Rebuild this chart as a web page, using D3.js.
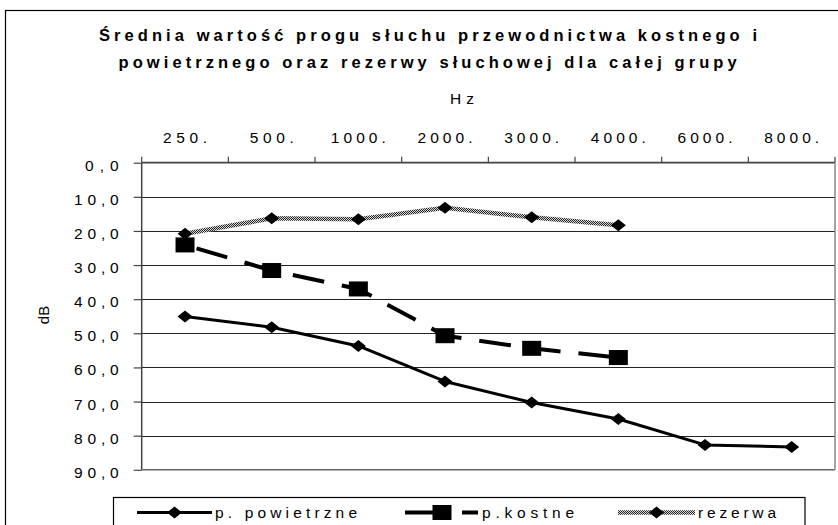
<!DOCTYPE html>
<html><head><meta charset="utf-8">
<script src="https://cdn.jsdelivr.net/npm/d3@7"></script>
<style>body{margin:0;background:#fff} svg{display:block} text{font-family:"Liberation Sans",Arial,sans-serif;fill:#000}</style>
</head><body><svg id="c" width="838" height="525"></svg>
<script>
const categories = ["250.","500.","1000.","2000.","3000.","4000.","6000.","8000."];
const powietrzne = [45.1,48.2,53.7,64.1,70.3,75.1,82.7,83.3];
const kostne = [24.1,31.6,37.0,50.7,54.4,57.1];
const rezerwa = [20.8,16.3,16.6,13.2,16.0,18.3];
const yTicks = [0,10,20,30,40,50,60,70,80,90];
const titleLines = ["Średnia wartość progu słuchu przewodnictwa kostnego i","powietrznego oraz rezerwy słuchowej dla całej grupy"];
const seriesNames = ["p. powietrzne","p.kostne","rezerwa"];

const svg = d3.select("#c");
svg.append("rect").attr("width",838).attr("height",525).attr("fill","#fff");
const defs = svg.append("defs");
const pat = defs.append("pattern").attr("id","chk").attr("patternUnits","userSpaceOnUse").attr("width",2).attr("height",2);
pat.append("rect").attr("width",2).attr("height",2).attr("fill","#d8d8d8");
pat.append("rect").attr("width",1).attr("height",1).attr("fill","#222");
pat.append("rect").attr("x",1).attr("y",1).attr("width",1).attr("height",1).attr("fill","#222");

// outer border
svg.append("rect").attr("x",5.5).attr("y",10.5).attr("width",900).attr("height",600)
  .attr("fill","none").attr("stroke","#000").attr("stroke-width",1.2);

const L=141.7, R=835, T=162.7, B=469.8;
const x = d3.scaleBand().domain(categories).range([L,R]).padding(0);
const y = d3.scaleLinear().domain([0,90]).range([T,B]);
const FS = "15.5px";

function fit(sel, w){ sel.attr("textLength",w).attr("lengthAdjust","spacing"); return sel; }

// title
fit(svg.append("text").attr("x",428).attr("y",41).attr("text-anchor","middle")
  .style("font-weight","bold").style("font-size","16.5px").text(titleLines[0]),658);
fit(svg.append("text").attr("x",427.6).attr("y",68).attr("text-anchor","middle")
  .style("font-weight","bold").style("font-size","16.5px").text(titleLines[1]),618);
fit(svg.append("text").attr("x",462).attr("y",104).attr("text-anchor","middle")
  .style("font-size",FS).text("Hz"),24);
svg.append("text").attr("transform","translate(49,315) rotate(-90)").attr("text-anchor","middle")
  .style("font-size","15px").text("dB");

// gridlines
svg.append("g").selectAll("line").data(yTicks.slice(1,-1)).join("line")
  .attr("x1",L).attr("x2",R).attr("y1",d=>Math.round(y(d))+0.5).attr("y2",d=>Math.round(y(d))+0.5)
  .attr("stroke","#222").attr("stroke-width",1);

// top axis
const xAxis = d3.axisTop(x).tickSize(0).tickPadding(0);
const gx = svg.append("g").attr("transform",`translate(0,${T})`).call(xAxis);
gx.select(".domain").remove();
gx.attr("font-family",null).attr("font-size",null);
gx.selectAll(".tick text").attr("y",-19.5).attr("dy",0)
  .attr("textLength",d=>d.length*11).attr("lengthAdjust","spacing")
  .style("font-size",FS).attr("fill","#000");
const edges = categories.map(c=>x(c)).concat([R]);
svg.append("g").selectAll("line").data(edges).join("line")
  .attr("x1",d=>d).attr("x2",d=>d).attr("y1",T-6).attr("y2",T).attr("stroke","#444").attr("stroke-width",1.2);

// left axis
const yAxis = d3.axisLeft(y).tickValues(yTicks).tickSize(8).tickPadding(0)
  .tickFormat(d=>d3.format(".1f")(d).replace(".",","));
const gy = svg.append("g").attr("transform",`translate(${L},0)`).call(yAxis);
gy.select(".domain").remove();
gy.attr("font-family",null).attr("font-size",null);
gy.selectAll(".tick line").attr("stroke","#444").attr("stroke-width",1.2);
gy.selectAll(".tick text").attr("x",-23).attr("dy",7.5)
  .attr("textLength",function(){return this.textContent.length*11.2;}).attr("lengthAdjust","spacing")
  .style("font-size",FS).attr("fill","#000");

// frame lines
svg.append("line").attr("x1",L).attr("x2",L).attr("y1",T).attr("y2",B).attr("stroke","#444").attr("stroke-width",1.5);
svg.append("line").attr("x1",L).attr("x2",R).attr("y1",T).attr("y2",T).attr("stroke","#444").attr("stroke-width",1.8);
svg.append("line").attr("x1",L).attr("x2",R).attr("y1",B).attr("y2",B).attr("stroke","#666").attr("stroke-width",1.5);
svg.append("line").attr("x1",R).attr("x2",R).attr("y1",T).attr("y2",B).attr("stroke","#888").attr("stroke-width",1.5);

const cx = (d,i)=>x(categories[i])+x.bandwidth()/2;
const line = d3.line().x(cx).y(d=>y(d));
const diamond = (g,px,py)=>g.append("path").attr("d",`M${px-7.5},${py} L${px},${py-6} L${px+7.5},${py} L${px},${py+6}Z`).attr("fill","#000");
const square = (g,px,py)=>g.append("rect").attr("x",px-9.5).attr("y",py-7.5).attr("width",19).attr("height",15).attr("fill","#000");

// rezerwa
const gr = svg.append("g");
gr.append("path").attr("d",line(rezerwa)).attr("fill","none").attr("stroke","url(#chk)").attr("stroke-width",4.5);
rezerwa.forEach((d,i)=>diamond(gr,cx(d,i),y(d)));
// kostne
const gk = svg.append("g");
gk.append("path").attr("d",line(kostne)).attr("fill","none").attr("stroke","#000").attr("stroke-width",4)
  .attr("stroke-dasharray","32,18").attr("stroke-dashoffset",-12);
kostne.forEach((d,i)=>square(gk,cx(d,i),y(d)));
// powietrzne
const gp = svg.append("g");
gp.append("path").attr("d",line(powietrzne)).attr("fill","none").attr("stroke","#000").attr("stroke-width",3).attr("stroke-linejoin","round");
powietrzne.forEach((d,i)=>diamond(gp,cx(d,i),y(d)));

// legend
const lg = svg.append("g");
lg.append("rect").attr("x",113.5).attr("y",497.5).attr("width",691.5).attr("height",60)
  .attr("fill","#fff").attr("stroke","#000").attr("stroke-width",1.2);
const ly = 512.5;
const items = [{x0:137,x1:212,tx:215,w:142},{x0:405,x1:478,tx:482,w:92},{x0:618,x1:695,tx:698,w:78}];
lg.append("line").attr("x1",items[0].x0).attr("x2",items[0].x1).attr("y1",ly).attr("y2",ly).attr("stroke","#000").attr("stroke-width",3);
diamond(lg,(items[0].x0+items[0].x1)/2,ly);
lg.append("line").attr("x1",items[1].x0).attr("x2",items[1].x0+30).attr("y1",ly).attr("y2",ly).attr("stroke","#000").attr("stroke-width",4);
lg.append("line").attr("x1",items[1].x1-16).attr("x2",items[1].x1).attr("y1",ly).attr("y2",ly).attr("stroke","#000").attr("stroke-width",4);
square(lg,items[1].x0+37,ly);
lg.append("line").attr("x1",items[2].x0).attr("x2",items[2].x1).attr("y1",ly).attr("y2",ly).attr("stroke","url(#chk)").attr("stroke-width",4.5);
diamond(lg,(items[2].x0+items[2].x1)/2,ly);
items.forEach((it,i)=>fit(lg.append("text").attr("x",it.tx).attr("y",518).style("font-size",FS)
  .text(seriesNames[i]),it.w));
</script></body></html>
